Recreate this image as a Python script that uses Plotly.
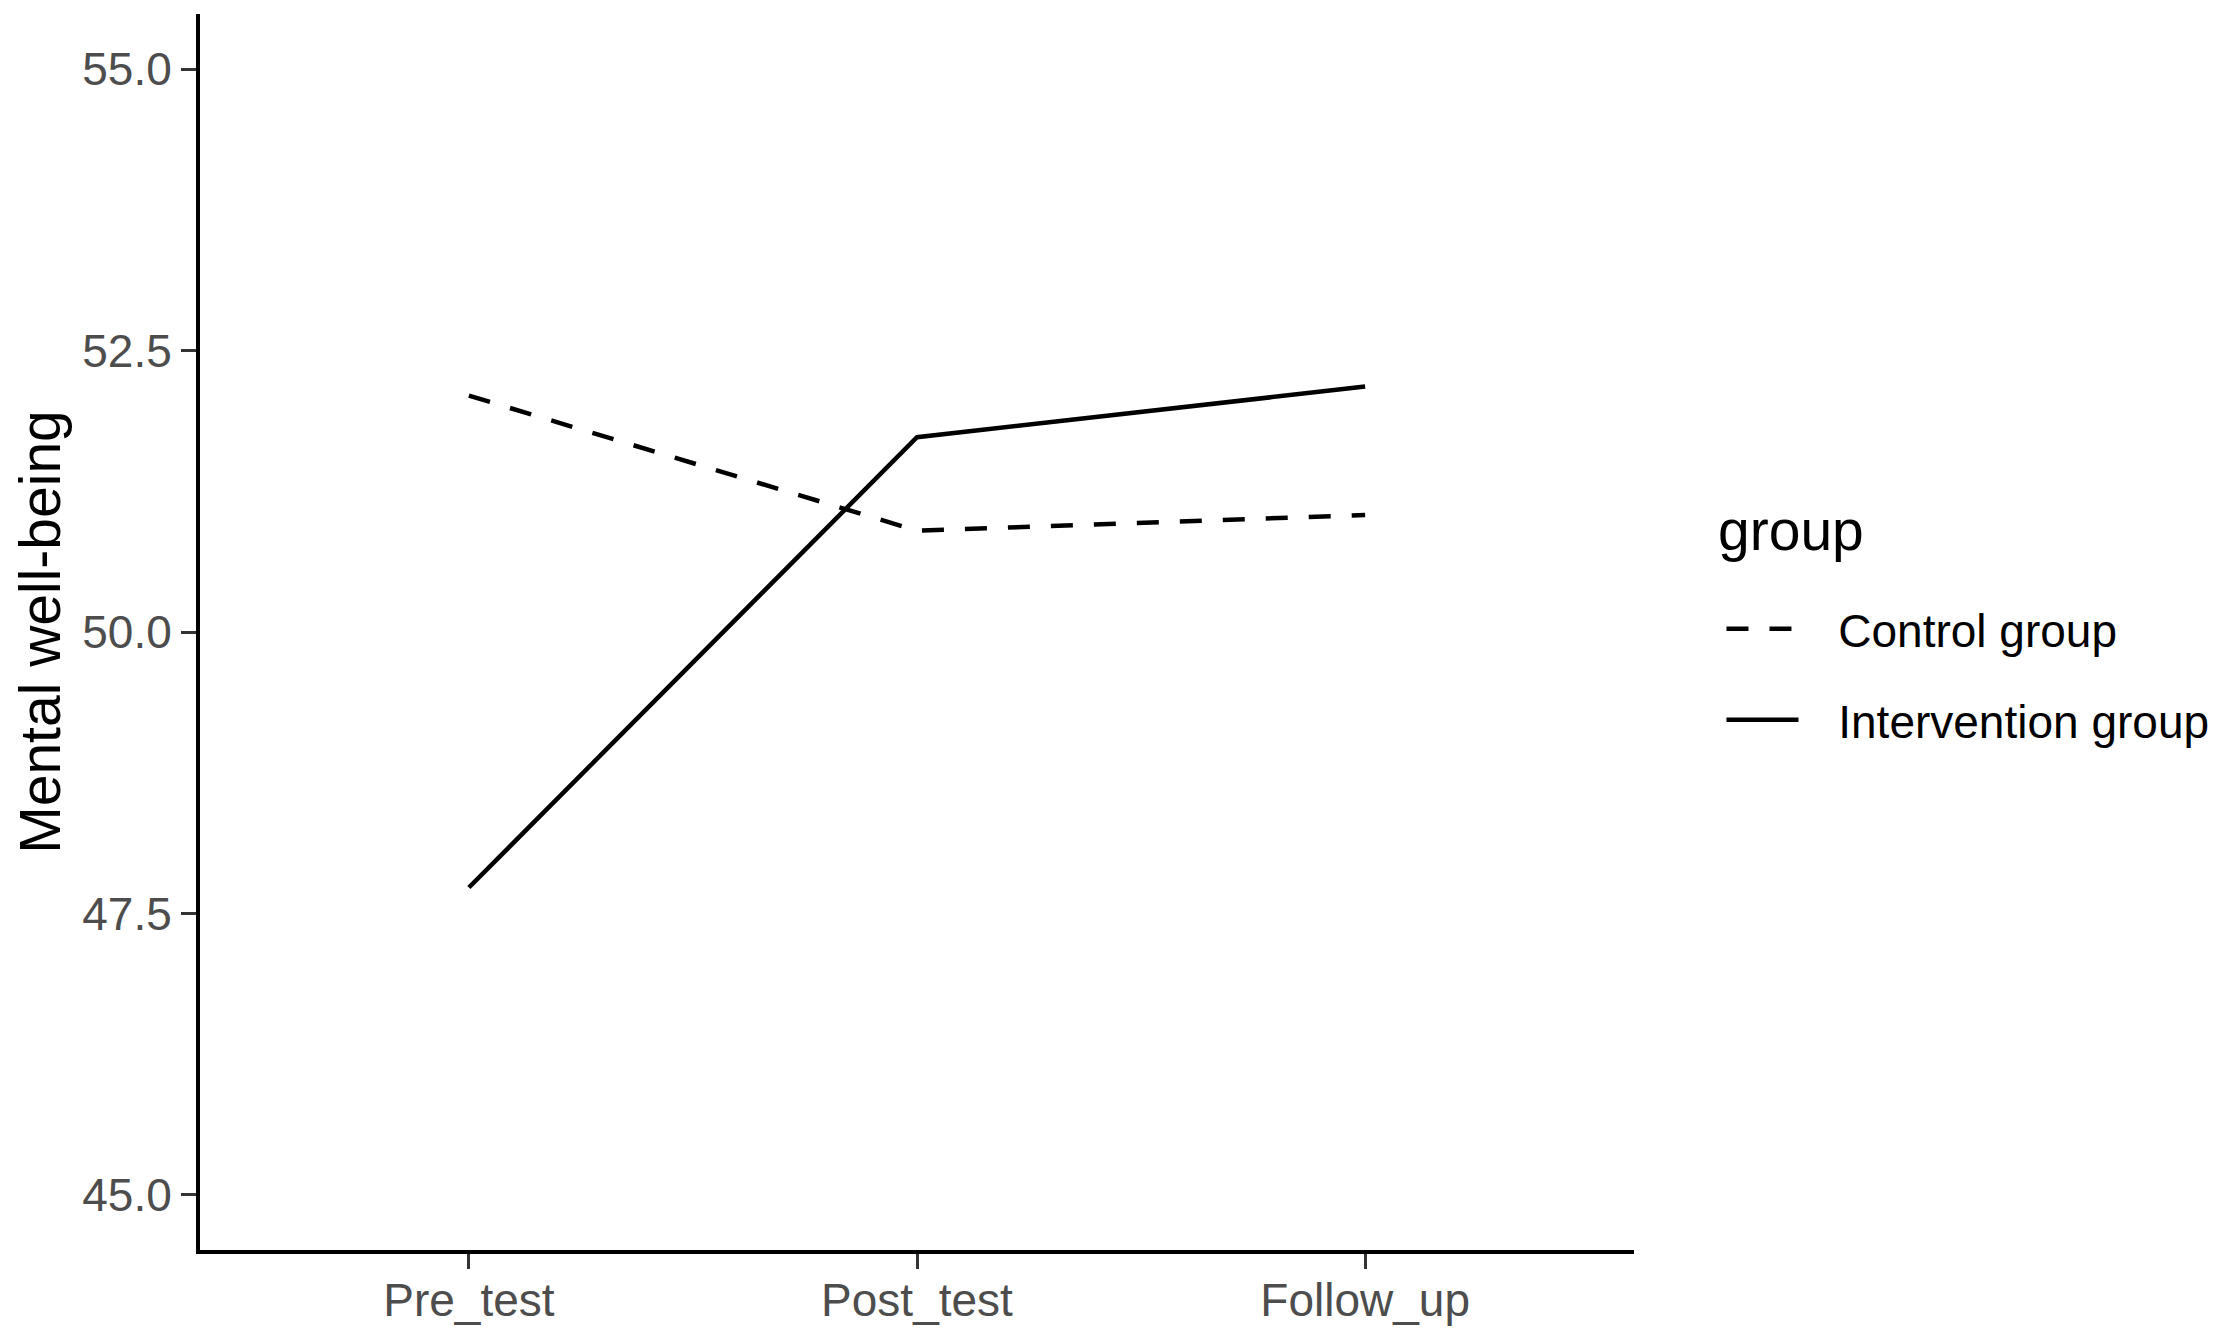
import plotly.graph_objects as go

# time points and group means
timepoints = ["Pre_test", "Post_test", "Follow_up"]
control_group = [52.10, 50.90, 51.04]
intervention_group = [47.73, 51.73, 52.18]

y_ticks = [45.0, 47.5, 50.0, 52.5, 55.0]
y_ticktext = ["45.0", "47.5", "50.0", "52.5", "55.0"]

FONT = "Liberation Sans, Arial, sans-serif"
PAD = "\u00a0\u00a0\u2009"  # gap between legend key and label

fig = go.Figure()

fig.add_trace(go.Scatter(
    x=timepoints, y=control_group, mode="lines", name=PAD + "Control group",
    legendgroup="c", line=dict(color="black", width=4.5, dash="22px,21px"),
))
fig.add_trace(go.Scatter(
    x=timepoints, y=intervention_group, mode="lines", name=PAD + "Intervention group",
    legendgroup="i", line=dict(color="black", width=4.5),
))

# page body adds an 8px offset, margins are compensated for that
fig.update_layout(
    width=2218, height=1337,
    paper_bgcolor="white", plot_bgcolor="white",
    margin=dict(l=192, r=592, t=6, b=95),
    font=dict(family=FONT, color="black"),
    showlegend=True,
    legend=dict(
        font=dict(size=46, color="black"),
        x=1.061, xanchor="left", y=0.532, yanchor="top",
        itemwidth=72, tracegroupgap=28, traceorder="grouped",
        bgcolor="rgba(0,0,0,0)",
    ),
    annotations=[dict(
        text="group", xref="paper", yref="paper",
        x=1.057, y=0.5825, xanchor="left", yanchor="middle",
        showarrow=False, font=dict(size=57, color="black"),
    )],
)

fig.update_xaxes(
    type="category", categoryorder="array", categoryarray=timepoints,
    range=[-0.6, 2.6], automargin=False,
    showline=True, linecolor="black", linewidth=4,
    ticks="outside", ticklen=15, tickwidth=3, tickcolor="#333333",
    tickfont=dict(size=46, color="#4D4D4D"), ticklabelstandoff=-8,
    showgrid=False, zeroline=False,
)
fig.update_yaxes(
    range=[44.51, 55.49], automargin=False,
    tickvals=y_ticks, ticktext=y_ticktext,
    showline=True, linecolor="black", linewidth=4,
    ticks="outside", ticklen=15, tickwidth=3, tickcolor="#333333",
    tickfont=dict(size=46, color="#4D4D4D"),
    showgrid=False, zeroline=False,
    title=dict(text="Mental well-being", font=dict(size=57, color="black"), standoff=14),
)

fig.write_html("out.html")
